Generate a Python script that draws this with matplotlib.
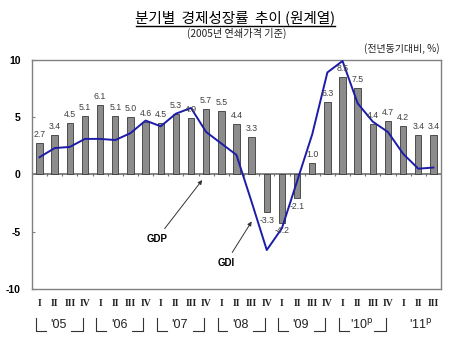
import numpy as np
import matplotlib
matplotlib.use('Agg')
import matplotlib.pyplot as plt
import matplotlib.transforms as mtransforms

plt.rcParams['font.family'] = ['Liberation Sans', 'Noto Sans CJK KR', 'DejaVu Sans']

# data
quarters = ['I', 'II', 'III', 'IV'] * 6 + ['I', 'II', 'III']
years = ["'05", "'06", "'07", "'08", "'09", "'10"]
gdp = [2.7, 3.4, 4.5, 5.1,
       6.1, 5.1, 5.0, 4.6,
       4.5, 5.3, 4.9, 5.7,
       5.5, 4.4, 3.3, -3.3,
       -4.2, -2.1, 1.0, 6.3,
       8.5, 7.5, 4.4, 4.7,
       4.2, 3.4, 3.4]
gdi = [1.5, 2.3, 2.4, 3.1,
       3.1, 3.0, 3.6, 4.7,
       4.2, 5.3, 5.8, 3.7,
       2.7, 1.7, -2.4, -6.6,
       -4.7, -0.6, 3.5, 8.9,
       9.9, 6.2, 4.6, 3.7,
       1.8, 0.5, 0.6]

x = np.arange(len(gdp))

fig = plt.figure(figsize=(4.5, 3.52), dpi=100)
ax = fig.add_axes([0.071, 0.179, 0.909, 0.651])

ax.bar(x, gdp, width=0.42, color='#8c8c8c', edgecolor='#3a3a3a', linewidth=0.6, zorder=2)
ax.plot(x, gdi, color='#1c1ca8', linewidth=1.4, zorder=3)

for xi, v in zip(x, gdp):
    if v >= 0:
        ax.text(xi, v + 0.35, f'{v:.1f}', ha='center', va='bottom', fontsize=6.3, color='#404040', zorder=4)
    else:
        ax.text(xi, v - 0.3, f'{v:.1f}', ha='center', va='top', fontsize=6.3, color='#404040', zorder=4)

# zero line with little category ticks
ax.axhline(0, color='#707070', linewidth=1.2, zorder=1)
ax.vlines(np.arange(len(gdp) + 1) - 0.5, -0.12, 0.12, color='#707070', linewidth=0.8, zorder=1)

ax.set_xlim(-0.5, len(gdp) - 0.5)
ax.set_ylim(-10, 10)
ax.set_yticks([10, 5, 0, -5, -10])
ax.set_yticklabels(['10', '5', '0', '-5', '-10'], fontsize=7.5, fontweight='bold')
ax.tick_params(axis='y', direction='in', length=2, pad=8, color='#808080')
ax.set_xticks(x)
ax.set_xticklabels(quarters, family='Liberation Serif', fontweight='bold', fontsize=7, color='#222222')
ax.tick_params(axis='x', length=0, pad=7)
for s in ax.spines.values():
    s.set_color('#808080')
    s.set_linewidth(1.0)

# year brackets
trans = mtransforms.blended_transform_factory(ax.transData, ax.transAxes)
for k, yr in enumerate(years):
    c = 4 * k + 1.5
    ax.plot([c - 1.75, c - 1.75, c - 1.1], [-0.125, -0.183, -0.183], color='#333333',
            linewidth=0.8, transform=trans, clip_on=False)
    ax.plot([c + 0.6, c + 1.35, c + 1.35], [-0.183, -0.183, -0.125], color='#333333',
            linewidth=0.8, transform=trans, clip_on=False)
    label = yr if k < 5 else yr + r'$^{\rm p}$'
    ax.text(c - 0.25, -0.158, label, ha='center', va='center', fontsize=9,
            color='#222222', transform=trans)
ax.text(25.15, -0.158, "'11" + r'$^{\rm p}$', ha='center', va='center', fontsize=9,
        color='#222222', transform=trans)

# annotations
ax.annotate('GDP', xy=(10.85, -0.3), xytext=(7.75, -5.6), ha='center', va='center',
            fontsize=7, fontweight='bold',
            arrowprops=dict(arrowstyle='-|>', color='#333333', lw=0.7, mutation_scale=6))
ax.annotate('GDI', xy=(14.1, -3.9), xytext=(12.3, -7.7), ha='center', va='center',
            fontsize=7, fontweight='bold',
            arrowprops=dict(arrowstyle='-|>', color='#333333', lw=0.7, mutation_scale=6))

# titles
kfont = ['Noto Sans CJK KR', 'DejaVu Sans']
fig.text(0.522, 0.950, '분기별  경제성장률  추이 (원계열)', ha='center', va='center',
         fontsize=10.5, fontweight='medium', family=kfont)
fig.lines.append(plt.Line2D([0.302, 0.745], [0.927, 0.927], color='black', linewidth=1.0,
                            transform=fig.transFigure, figure=fig))
fig.text(0.527, 0.905, '(2005년 연쇄가격 기준)', ha='center', va='center',
         fontsize=7.3, family=kfont, color='#222222')
fig.text(0.978, 0.862, '(전년동기대비, %)', ha='right', va='center',
         fontsize=7.2, family=kfont, color='#222222')

fig.savefig('out.png', dpi=100)
